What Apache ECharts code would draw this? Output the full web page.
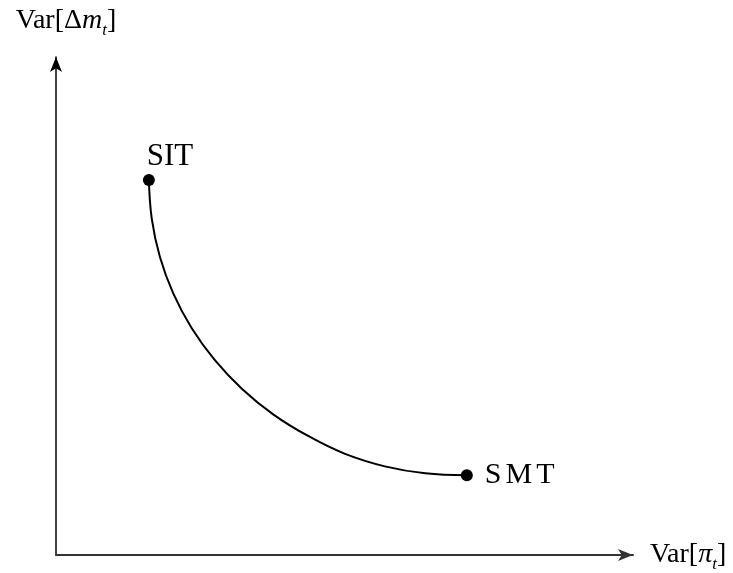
<!DOCTYPE html>
<html>
<head>
<meta charset="utf-8">
<script src="https://cdn.jsdelivr.net/npm/echarts@6/dist/echarts.min.js"></script>
<style>
  html, body { margin: 0; padding: 0; background: #fff; }
  #main { width: 733px; height: 573px; }
</style>
</head>
<body>
<div id="main"></div>
<script>
// 曲线上的点 (Var[π_t], Var[Δm_t])
var curveX = [1.61, 1.66, 1.80, 2.03, 2.35, 2.75, 3.23, 3.77, 4.37, 5.01, 5.70, 6.40, 7.12];
var curveY = [7.53, 6.75, 5.99, 5.26, 4.56, 3.92, 3.33, 2.82, 2.39, 2.03, 1.78, 1.64, 1.60];
// 两个端点
var sitPoint = [1.61, 7.53];
var smtPoint = [7.12, 1.60];

var font = '"Liberation Serif", "DejaVu Serif", serif';

var chart = echarts.init(document.getElementById('main'));

var curveData = curveX.map(function (x, i) { return [x, curveY[i]]; });

// 坐标轴名称的富文本样式
var nameRich = {
  n: { fontFamily: font, fontSize: 28, color: '#000', lineHeight: 36 },
  i: { fontFamily: font, fontSize: 28, fontStyle: 'italic', color: '#000', lineHeight: 36 },
  s: { fontFamily: font, fontSize: 17, fontStyle: 'italic', color: '#000', lineHeight: 36, verticalAlign: 'bottom' }
};

var option = {
  animation: false,
  grid: { left: 56, right: 100, top: 57, bottom: 15 },
  xAxis: {
    type: 'value',
    min: 0,
    max: 10,
    name: '{n|Var[}{i|π}{s|t}{n|]}',
    nameLocation: 'end',
    nameGap: 17,
    nameTextStyle: { rich: nameRich },
    axisLine: {
      show: true,
      symbol: ['none', 'arrow'],
      symbolSize: [9, 15],
      lineStyle: { color: '#333', width: 2 }
    },
    axisTick: { show: false },
    axisLabel: { show: false },
    splitLine: { show: false }
  },
  yAxis: {
    type: 'value',
    min: 0,
    max: 10,
    name: '{n|Var[Δ}{i|m}{s|t}{n|]}',
    nameLocation: 'end',
    nameGap: 18,
    nameTextStyle: { padding: [0, 0, 0, 20], rich: nameRich },
    axisLine: {
      show: true,
      symbol: ['none', 'arrow'],
      symbolSize: [9, 15],
      lineStyle: { color: '#000', width: 1.5 }
    },
    axisTick: { show: false },
    axisLabel: { show: false },
    splitLine: { show: false }
  },
  series: [
    {
      type: 'line',
      data: curveData,
      smooth: 0.4,
      showSymbol: false,
      lineStyle: { color: '#000', width: 2 }
    },
    {
      type: 'scatter',
      data: [{ name: 'SIT', value: sitPoint }],
      symbolSize: 12,
      itemStyle: { color: '#000', opacity: 1 },
      label: {
        show: true,
        formatter: '{b}',
        position: 'top',
        offset: [21, 3],
        fontFamily: font,
        fontSize: 31,
        color: '#000'
      }
    },
    {
      type: 'scatter',
      data: [{ name: 'SMT', value: smtPoint }],
      symbolSize: 12,
      itemStyle: { color: '#000', opacity: 1 },
      label: {
        show: true,
        formatter: '{a|S}{a|M}{a|T}',
        position: 'right',
        distance: 10,
        rich: {
          a: { fontFamily: font, fontSize: 30, color: '#000', padding: [0, 2] }
        }
      }
    }
  ]
};

chart.setOption(option);
</script>
</body>
</html>
